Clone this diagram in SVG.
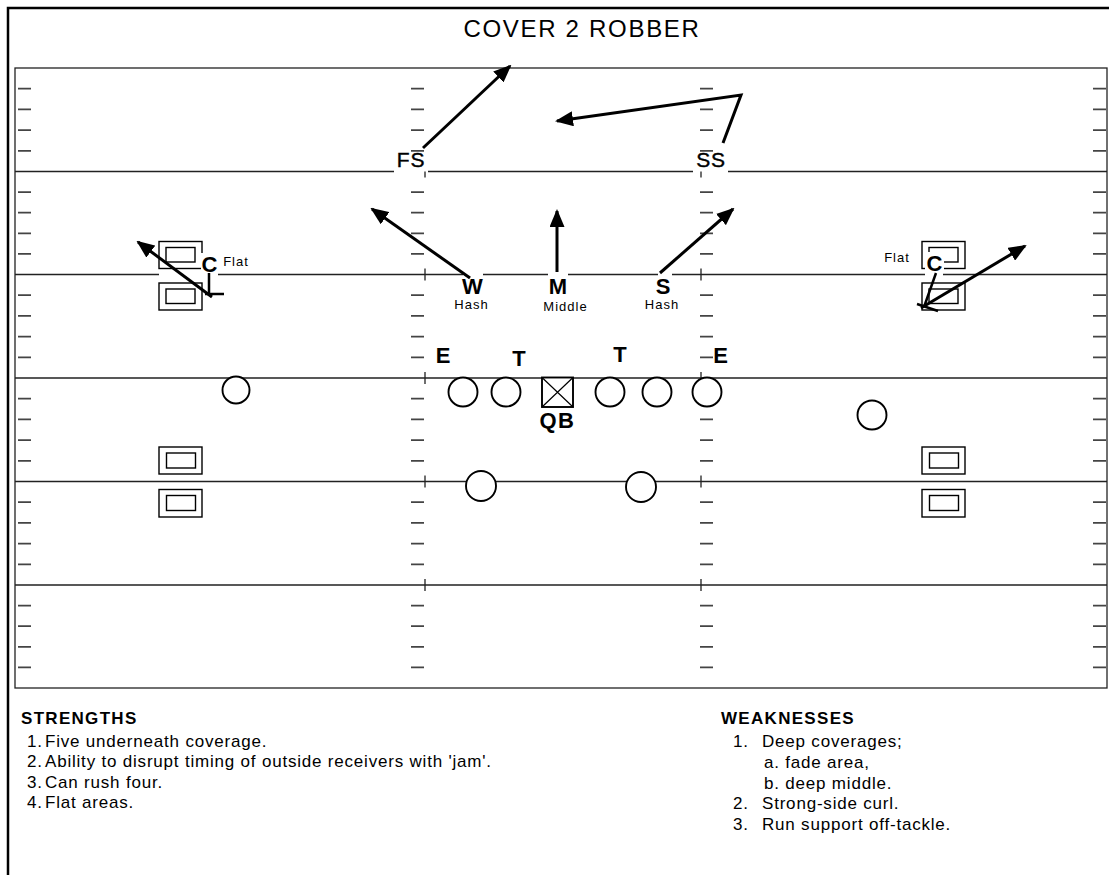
<svg xmlns="http://www.w3.org/2000/svg" width="1109" height="875" viewBox="0 0 1109 875">
<style>
.fl{stroke:#222;stroke-width:1.3;fill:none}
.tk{stroke:#444;stroke-width:1.8;fill:none}
.vt{stroke:#222;stroke-width:1.3;fill:none}
.pl{stroke:#000;stroke-width:1.9;fill:#fff}
.bx{stroke:#000;stroke-width:1.4;fill:none}
.ar{stroke:#000;stroke-width:3;fill:none;marker-end:url(#ah)}
.st{stroke:#000;stroke-width:2.5;fill:none}
.big{font-family:"Liberation Sans",Arial,sans-serif;font-size:22px;font-weight:bold;fill:#000;text-anchor:middle}
.reg{font-family:"Liberation Sans",Arial,sans-serif;font-size:21px;fill:#000;text-anchor:middle;letter-spacing:0.8px;stroke:#000;stroke-width:0.4}
.sm{font-family:"Liberation Sans",Arial,sans-serif;font-size:13px;fill:#000;text-anchor:middle;letter-spacing:1px}
.hd{font-family:"Liberation Sans",Arial,sans-serif;font-size:17px;font-weight:bold;fill:#000;letter-spacing:1.3px}
.bd{font-family:"Liberation Sans",Arial,sans-serif;font-size:17px;fill:#000;letter-spacing:0.8px}
</style>
<defs>
<marker id="ah" markerWidth="18" markerHeight="15" refX="16" refY="7.5" orient="auto" markerUnits="userSpaceOnUse"><path d="M0,0 L18,7.5 L0,15 z" fill="#000"/></marker>
</defs>
<rect width="1109" height="875" fill="#fff"/>
<g id="frame">
<path d="M8 875 V8 H1109" stroke="#000" stroke-width="2.5" fill="none"/>
</g>
<text id="title" x="582" y="37" font-family="Liberation Sans, Arial, sans-serif" font-size="24" letter-spacing="1.7" text-anchor="middle" fill="#000">COVER 2 ROBBER</text>
<g id="field">
<rect class="fl" x="15" y="68" width="1092" height="620"/>
<path class="fl" d="M15 171.5H394 M428 171.5H693 M728 171.5H1107 M15 274.5H159 M218 274.5H463 M483 274.5H548 M568 274.5H658 M672 274.5H925 M943 274.5H1107 M15 378H1107 M15 481.5H1107 M15 585H1107"/>
<path class="tk" d="M18 88.7h13M18 109.4h13M18 130.1h13M18 150.8h13M18 192.1h13M18 212.7h13M18 233.3h13M18 253.9h13M18 295.2h13M18 315.9h13M18 336.6h13M18 357.3h13M18 398.7h13M18 419.4h13M18 440.1h13M18 460.8h13M18 502.2h13M18 522.9h13M18 543.6h13M18 564.3h13M18 605.6h13M18 626.2h13M18 646.8h13M18 667.4h13"/>
<path class="tk" d="M411 88.7h13M411 109.4h13M411 130.1h13M411 150.8h13M411 192.1h13M411 212.7h13M411 233.3h13M411 253.9h13M411 295.2h13M411 315.9h13M411 336.6h13M411 357.3h13M411 398.7h13M411 419.4h13M411 440.1h13M411 460.8h13M411 502.2h13M411 522.9h13M411 543.6h13M411 564.3h13M411 605.6h13M411 626.2h13M411 646.8h13M411 667.4h13"/>
<path class="tk" d="M700 88.7h13M700 109.4h13M700 130.1h13M700 150.8h13M700 192.1h13M700 212.7h13M700 233.3h13M700 253.9h13M700 295.2h13M700 315.9h13M700 336.6h13M700 357.3h13M700 398.7h13M700 419.4h13M700 440.1h13M700 460.8h13M700 502.2h13M700 522.9h13M700 543.6h13M700 564.3h13M700 605.6h13M700 626.2h13M700 646.8h13M700 667.4h13"/>
<path class="tk" d="M1093 88.7h13M1093 109.4h13M1093 130.1h13M1093 150.8h13M1093 192.1h13M1093 212.7h13M1093 233.3h13M1093 253.9h13M1093 295.2h13M1093 315.9h13M1093 336.6h13M1093 357.3h13M1093 398.7h13M1093 419.4h13M1093 440.1h13M1093 460.8h13M1093 502.2h13M1093 522.9h13M1093 543.6h13M1093 564.3h13M1093 605.6h13M1093 626.2h13M1093 646.8h13M1093 667.4h13"/>
<path class="vt" d="M425 171.5v6M701 171.5v6M425 268.5v12M701 268.5v12M425 372v12M701 372v12M425 475.5v12M701 475.5v12M425 579v12M701 579v12"/>
</g>
<g id="connectors">
<path class="ar" d="M423 148 L510 66"/>
<path class="ar" d="M723 143 L741 95 L557 121"/>
<path class="ar" d="M470 278 L372 209"/>
<path class="ar" d="M557 272 L557 211"/>
<path class="ar" d="M660 273 L733 209"/>
<path class="ar" d="M212 297 L138 242"/>
<path class="st" d="M209 272 V294 M205 294 H224"/>
<path class="ar" d="M921 308 L1025 246"/>
<path class="st" d="M936 273 L924 307 M917 304 L938 311"/>
</g>
<g id="rec-left-upper">
<rect class="bx" x="159" y="241.5" width="43" height="27"/><rect class="bx" x="166" y="247.5" width="29" height="14.5"/>
<rect class="bx" x="159" y="283" width="43" height="27"/><rect class="bx" x="166" y="289" width="29" height="14.5"/>
</g>
<g id="rec-right-upper">
<rect class="bx" x="922" y="241.5" width="43" height="27"/><rect class="bx" x="929" y="247.5" width="29" height="14.5"/>
<rect class="bx" x="922" y="283" width="43" height="27"/><rect class="bx" x="929" y="289" width="29" height="14.5"/>
</g>
<g id="rec-left-lower">
<rect class="bx" x="159" y="447" width="43" height="27"/><rect class="bx" x="166.5" y="453" width="29" height="15"/>
<rect class="bx" x="159" y="489.5" width="43" height="27.5"/><rect class="bx" x="166.5" y="495.5" width="29" height="15"/>
</g>
<g id="rec-right-lower">
<rect class="bx" x="922" y="447" width="43" height="27"/><rect class="bx" x="929.5" y="453" width="29" height="15"/>
<rect class="bx" x="922" y="489.5" width="43" height="27.5"/><rect class="bx" x="929.5" y="495.5" width="29" height="15"/>
</g>
<g id="c-left">
<rect x="201" y="253" width="17" height="20" fill="#fff"/>
<text class="big" x="209.5" y="272">C</text>
<text class="sm" x="236" y="266">Flat</text>
</g>
<g id="c-right">
<rect x="925" y="252" width="19" height="20" fill="#fff"/>
<text class="big" x="934.5" y="271">C</text>
<text class="sm" x="897" y="262">Flat</text>
</g>
<g id="fs"><text class="reg" x="411" y="167">FS</text></g>
<g id="ss"><text class="reg" x="711" y="167">SS</text></g>
<g id="w"><text class="big" x="472.5" y="294">W</text><text class="sm" x="471.5" y="309">Hash</text></g>
<g id="m"><text class="big" x="558" y="294">M</text><text class="sm" x="565.5" y="311">Middle</text></g>
<g id="s"><text class="big" x="663" y="294">S</text><text class="sm" x="662" y="309">Hash</text></g>
<g id="e-left"><text class="big" x="443" y="363">E</text></g>
<g id="t-left"><text class="big" x="519" y="366">T</text></g>
<g id="t-right"><text class="big" x="620" y="362">T</text></g>
<g id="e-right"><text class="big" x="720.5" y="363">E</text></g>
<g id="oline">
<circle class="pl" cx="463" cy="392" r="14.5"/>
<circle class="pl" cx="506" cy="392" r="14.5"/>
<circle class="pl" cx="610" cy="392" r="14.5"/>
<circle class="pl" cx="657" cy="392" r="14.5"/>
<circle class="pl" cx="707" cy="392" r="14.5"/>
</g>
<g id="qb">
<rect class="pl" x="542" y="377.5" width="31" height="29.5"/>
<path d="M542 377.5 L573 407 M573 377.5 L542 407" stroke="#000" stroke-width="1.2"/>
<text class="big" x="557.5" y="428" letter-spacing="1.5">QB</text>
</g>
<g id="wr-left"><circle class="pl" cx="236" cy="390" r="13.5"/></g>
<g id="wr-right"><circle class="pl" cx="872" cy="415" r="14.5"/></g>
<g id="rb-left"><circle class="pl" cx="481" cy="486" r="15"/></g>
<g id="rb-right"><circle class="pl" cx="641" cy="487" r="15"/></g>
<g id="strengths">
<text class="hd" x="21" y="724">STRENGTHS</text>
<text class="bd" y="746.5"><tspan x="27">1.</tspan><tspan x="45">Five underneath coverage.</tspan></text>
<text class="bd" y="767"><tspan x="27">2.</tspan><tspan x="45">Ability to disrupt timing of outside receivers with 'jam'.</tspan></text>
<text class="bd" y="787.5"><tspan x="27">3.</tspan><tspan x="45">Can rush four.</tspan></text>
<text class="bd" y="808"><tspan x="27">4.</tspan><tspan x="45">Flat areas.</tspan></text>
</g>
<g id="weaknesses">
<text class="hd" x="721" y="724">WEAKNESSES</text>
<text class="bd" y="747"><tspan x="733">1.</tspan><tspan x="762">Deep coverages;</tspan></text>
<text class="bd" x="764" y="768">a. fade area,</text>
<text class="bd" x="764" y="789">b. deep middle.</text>
<text class="bd" y="809"><tspan x="733">2.</tspan><tspan x="762">Strong-side curl.</tspan></text>
<text class="bd" y="830"><tspan x="733">3.</tspan><tspan x="762">Run support off-tackle.</tspan></text>
</g>
</svg>
